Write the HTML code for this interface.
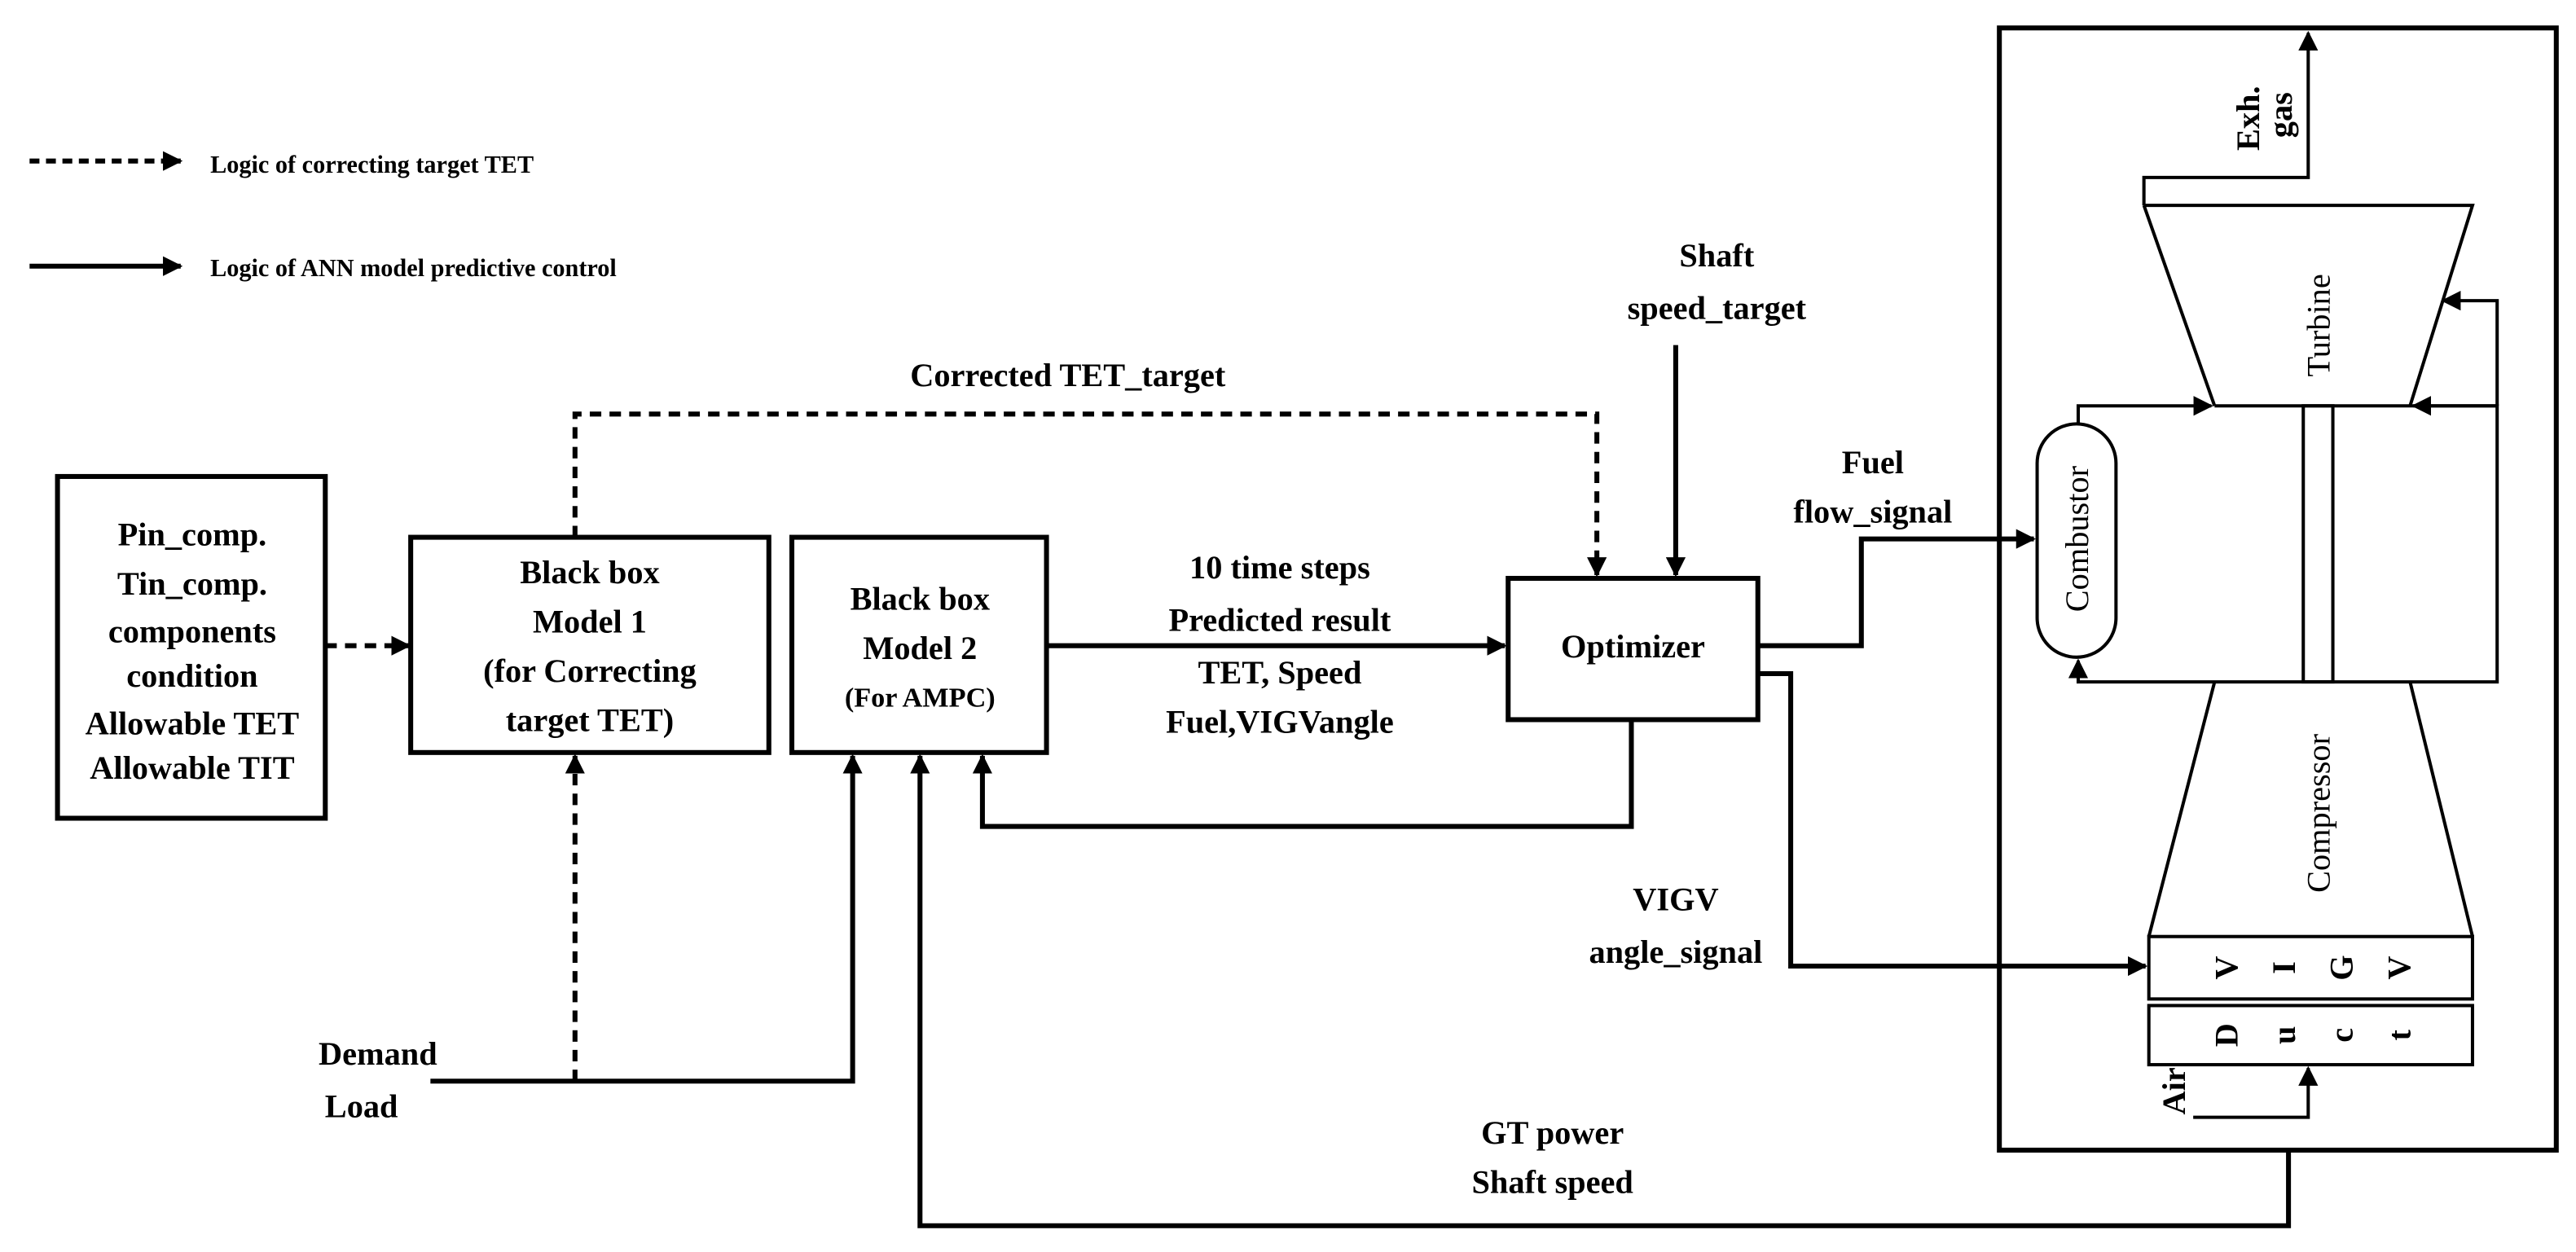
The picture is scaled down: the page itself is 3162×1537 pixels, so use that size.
<!DOCTYPE html>
<html><head><meta charset="utf-8"><style>
html,body{margin:0;padding:0;background:#fff;}
svg{display:block;}
text{font-family:"Liberation Serif",serif;font-weight:bold;fill:#000;}
</style></head><body>
<svg width="3162" height="1537" viewBox="0 0 1568 762" preserveAspectRatio="none" xmlns="http://www.w3.org/2000/svg">
<defs>
<marker id="a" viewBox="0 0 10 10" refX="9" refY="5" markerWidth="4" markerHeight="4" orient="auto" markerUnits="strokeWidth"><path d="M0,0 L10,5 L0,10 z" fill="#000"/></marker>
<marker id="b" viewBox="0 0 10 10" refX="9" refY="5" markerWidth="6" markerHeight="6" orient="auto" markerUnits="strokeWidth"><path d="M0,0 L10,5 L0,10 z" fill="#000"/></marker>
</defs>
<g fill="none" stroke="#000" stroke-width="3">
<line x1="18" y1="98" x2="110" y2="98" stroke-dasharray="6,4" marker-end="url(#a)"/>
<line x1="18" y1="162" x2="110" y2="162" marker-end="url(#a)"/>
<rect x="35" y="290" width="163" height="208"/>
<rect x="250" y="327" width="218" height="131"/>
<rect x="482" y="327" width="155" height="131"/>
<rect x="918" y="352" width="152" height="86"/>
<polyline points="350,327 350,252 972,252 972,350" stroke-dasharray="7,5" marker-end="url(#a)"/>
<line x1="198" y1="393" x2="249" y2="393" stroke-dasharray="7,5" marker-end="url(#a)"/>
<line x1="350" y1="658" x2="350" y2="460" stroke-dasharray="7,5" marker-end="url(#a)"/>
<line x1="637" y1="393" x2="916" y2="393" marker-end="url(#a)"/>
<polyline points="993,438 993,503 598,503 598,460" marker-end="url(#a)"/>
<polyline points="262,658 519,658 519,460" marker-end="url(#a)"/>
<polyline points="1393,700 1393,746 560,746 560,460" marker-end="url(#a)"/>
<line x1="1020" y1="210" x2="1020" y2="350" marker-end="url(#a)"/>
<polyline points="1070,393 1133,393 1133,328 1238,328" marker-end="url(#a)"/>
<polyline points="1070,410 1090,410 1090,588 1306,588" marker-end="url(#a)"/>
<rect x="1217" y="17" width="339" height="683"/>
</g>
<g fill="none" stroke="#000" stroke-width="2">
<rect x="1240" y="258" width="48" height="142" rx="24"/>
<polyline points="1305,125 1505,125 1467,247"/>
<line x1="1305" y1="125" x2="1348" y2="247"/>
<polyline points="1265,258 1265,247 1346,247" marker-end="url(#b)"/>
<polyline points="1348,247 1520,247 1520,415 1265,415 1265,402" marker-end="url(#b)"/>
<line x1="1520" y1="247" x2="1469" y2="247" marker-end="url(#b)"/>
<polyline points="1520,247 1520,183 1487,183" marker-end="url(#b)"/>
<rect x="1402" y="247" width="18" height="168"/>
<line x1="1348" y1="415" x2="1308" y2="570"/>
<line x1="1467" y1="415" x2="1505" y2="570"/>
<rect x="1308" y="570" width="197" height="38"/>
<rect x="1308" y="612" width="197" height="36"/>
<polyline points="1305,125 1305,108 1405,108 1405,20" marker-end="url(#b)"/>
<polyline points="1335,680 1405,680 1405,650" marker-end="url(#b)"/>
</g>
<g font-size="15">
<text x="128" y="105">Logic of correcting target TET</text>
<text x="128" y="168">Logic of ANN model predictive control</text>
</g>
<g font-size="20" text-anchor="middle">
<text x="117" y="332">Pin_comp.</text>
<text x="117" y="362">Tin_comp.</text>
<text x="117" y="391">components</text>
<text x="117" y="418">condition</text>
<text x="117" y="447">Allowable TET</text>
<text x="117" y="474">Allowable TIT</text>
<text x="359" y="355">Black box</text>
<text x="359" y="385">Model 1</text>
<text x="359" y="415">(for Correcting</text>
<text x="359" y="445">target TET)</text>
<text x="560" y="371">Black box</text>
<text x="560" y="401">Model 2</text>
<text x="560" y="430" font-size="17">(For AMPC)</text>
<text x="779" y="352">10 time steps</text>
<text x="779" y="384">Predicted result</text>
<text x="779" y="416">TET, Speed</text>
<text x="779" y="446">Fuel,VIGVangle</text>
<text x="994" y="400">Optimizer</text>
<text x="650" y="235">Corrected  TET_target</text>
<text x="1045" y="162">Shaft</text>
<text x="1045" y="194">speed_target</text>
<text x="1140" y="288">Fuel</text>
<text x="1140" y="318">flow_signal</text>
<text x="1020" y="554">VIGV</text>
<text x="1020" y="586">angle_signal</text>
<text x="945" y="696">GT power</text>
<text x="945" y="726">Shaft speed</text>
<text x="230" y="648">Demand</text>
<text x="220" y="680">Load</text>
</g>
<g font-size="20" text-anchor="middle">
<text transform="translate(1271,328) rotate(-90)" style="font-weight:normal">Combustor</text>
<text transform="translate(1418,198) rotate(-90)" style="font-weight:normal">Turbine</text>
<text transform="translate(1418,495) rotate(-90)" style="font-weight:normal">Compressor</text>
<text transform="translate(1375,72) rotate(-90)">Exh.</text>
<text transform="translate(1395,70) rotate(-90)">gas</text>
<text transform="translate(1330,664) rotate(-90)">Air</text>
<text transform="translate(1362,589) rotate(-90)">V</text>
<text transform="translate(1397,589) rotate(-90)">I</text>
<text transform="translate(1432,589) rotate(-90)">G</text>
<text transform="translate(1467,589) rotate(-90)">V</text>
<text transform="translate(1362,630) rotate(-90)">D</text>
<text transform="translate(1397,630) rotate(-90)">u</text>
<text transform="translate(1432,630) rotate(-90)">c</text>
<text transform="translate(1467,630) rotate(-90)">t</text>
</g>
</svg>
</body></html>
